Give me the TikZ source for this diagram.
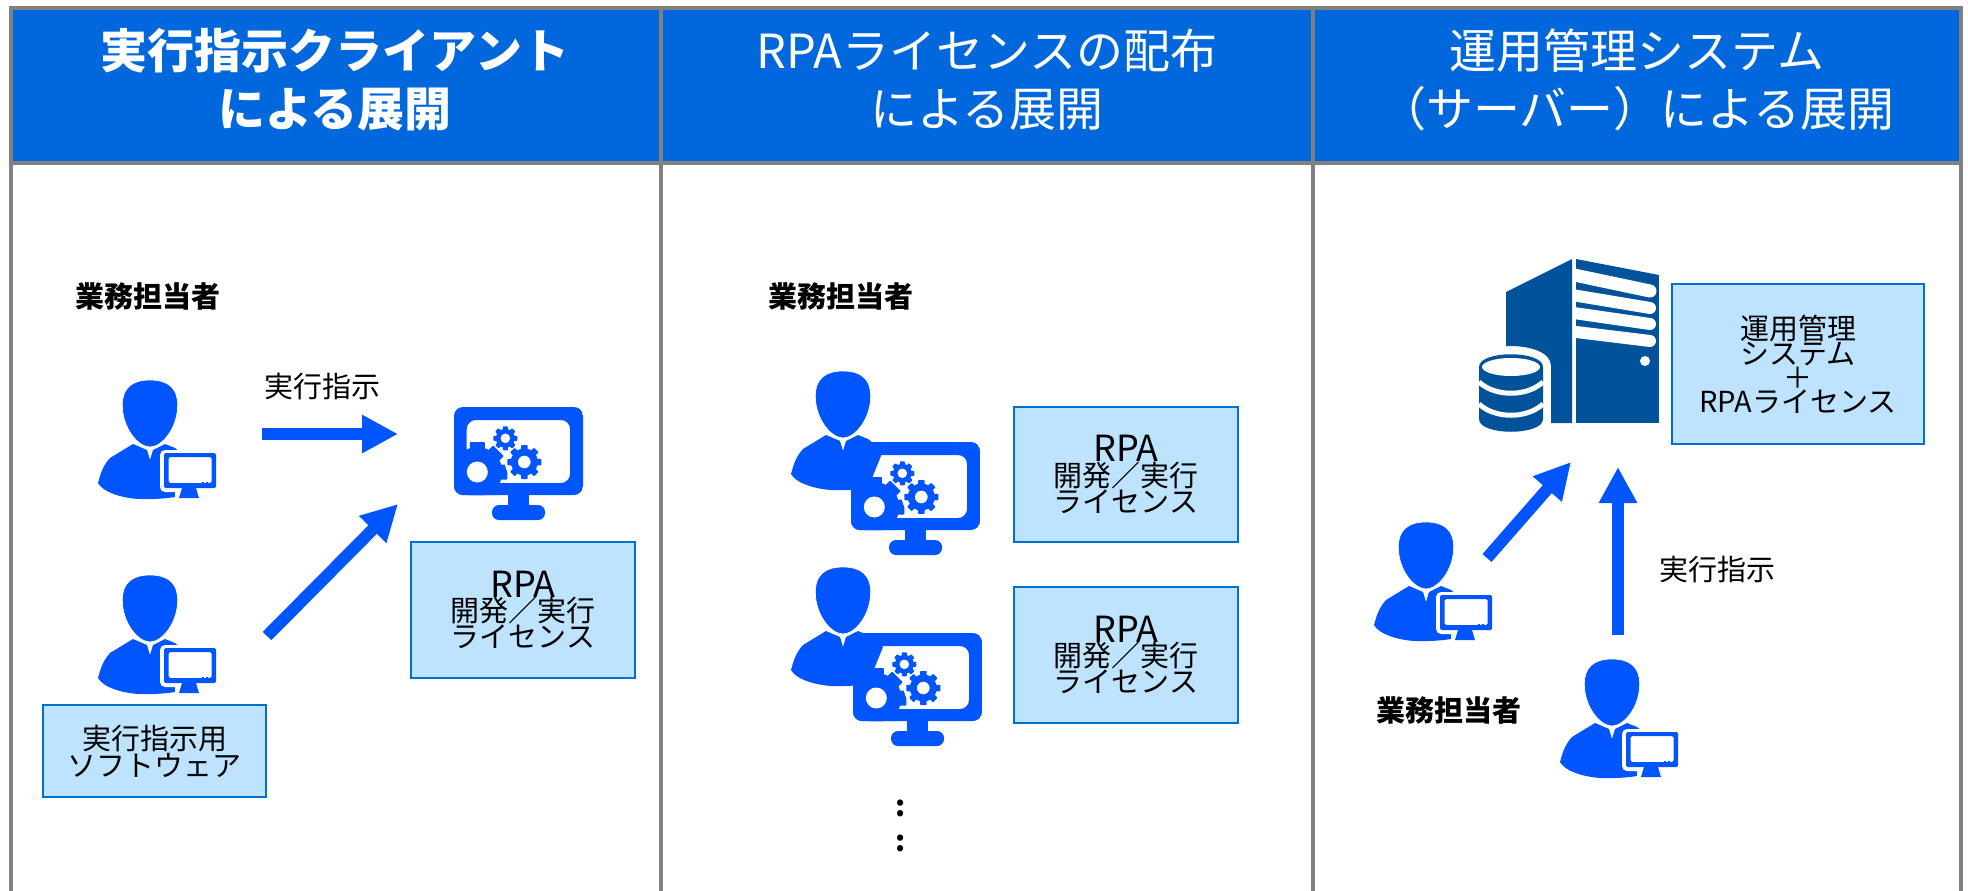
\documentclass[tikz,border=0pt]{standalone}
\usepackage{fontspec}
\setmainfont{Noto Sans CJK JP}
\usetikzlibrary{arrows.meta}
\definecolor{iconblue}{HTML}{0055FF}
\definecolor{headblue}{HTML}{0068DC}
\definecolor{rulegray}{HTML}{808080}
\definecolor{boxfill}{HTML}{BEE3FF}
\definecolor{boxline}{HTML}{0070D0}
\definecolor{servblue}{HTML}{00529B}
\newcommand{\fs}[2]{\fontsize{#1}{#2}\selectfont}
\newcommand{\gearat}[6]{% cx cy bodyr toothr toothw hole
  \fill[iconblue] (#1,#2) circle[radius=#3];
  \foreach \ang in {0,45,...,315}
    \fill[iconblue,shift={(#1,#2)},rotate=\ang,rounded corners=0.8pt] (-#5/2,-#4) rectangle (#5/2,0);
  \fill[white] (#1,#2) circle[radius=#6];
}
\tikzset{
  x=1pt,y=-1pt,
  grid/.style={draw=rulegray,line width=4pt},
  headcell/.style={fill=headblue,draw=none},
  headtext/.style={text=white,align=center,inner sep=0pt,font=\fs{47}{58}},
  info/.style={draw=boxline,line width=1.8pt,fill=boxfill,align=center,inner sep=0pt,text=black},
  who/.style={inner sep=0pt,font=\fs{29}{36}\bfseries,text=black},
  cmd/.style={inner sep=0pt,font=\fs{29}{36},text=black},
  bigarrow/.style={draw=iconblue,line width=12pt,-{Triangle[length=36pt,width=36pt]}},
  personbase/.pic={
    \fill[iconblue] (-17,64) -- (-3,70) -- (0,80) -- (3,70) -- (15,64) -- (25,68) -- (40,80) -- (25,117)
      .. controls (10,119.5) and (-10,119.5) .. (-17,118.5)
      .. controls (-30,117) and (-47,112) .. (-52,103)
      .. controls (-49,92) and (-47,86) .. (-40,78) -- cycle;
    \fill[iconblue,draw=white,line width=0.7pt] (0,0) .. controls (18,0) and (27.7,8) .. (27.7,25)
      .. controls (27.7,48) and (12,67) .. (0,67)
      .. controls (-12,67) and (-27.7,48) .. (-27.7,25)
      .. controls (-27.7,8) and (-18,0) .. (0,0) -- cycle;
  },
  personpc/.pic={
    \pic {personbase};
    \fill[white,rounded corners=5pt] (10,70) rectangle (70,112);
    \fill[white] (25,108) rectangle (30,122);
    \fill[iconblue,rounded corners=1.5pt,even odd rule] (14,73) rectangle (66,108) (18.7,77) rectangle (61.7,103);
    \fill[iconblue] (32,108) -- (46,108) -- (49,118) -- (29,118) -- cycle;
    \fill[iconblue] (52,102) rectangle (54,104) (56,102) rectangle (58,104);
  },
  gearmon/.pic={
    \begin{scope}
      \clip[rounded corners=9pt] (0,0) rectangle (129,88);
      \fill[iconblue,rounded corners=9pt,even odd rule] (0,0) rectangle (129,88) (12.7,13) rectangle (116,76);
      \gearat{23.3}{65}{25}{30}{15}{0}
      \fill[white] (70.3,55) circle[radius=19.5];
      \fill[white] (23.3,65) circle[radius=10.5];
    \end{scope}
    \gearat{70.3}{55}{13.5}{17}{6.5}{6.3}
    \gearat{51.3}{31.3}{9.5}{12}{5}{4.8}
    \fill[iconblue] (54,88) rectangle (75,100);
    \fill[iconblue,rounded corners=7pt] (38,98) rectangle (91,113);
  },
}
\begin{document}
\begin{tikzpicture}
\useasboundingbox (0,0) rectangle (1968,891);
\fill[white] (0,0) rectangle (1968,891);
% header band
\fill[headcell] (10.5,8) rectangle (1961,163);
% grid
\draw[grid] (10.5,891) -- (10.5,8) -- (1961,8) -- (1961,891);
\draw[grid] (661,8) -- (661,891);
\draw[grid] (1312.5,8) -- (1312.5,891);
\draw[grid] (10.5,163) -- (1961,163);
% header text
\node[headtext,font=\fs{47}{58}\bfseries] (h1) at (335,80) {実行指示クライアント\\による展開};
\node[headtext] (h2) at (987,80) {RPAライセンスの配布\\による展開};
\node[headtext] (h3) at (1637,80) {運用管理システム\\（サーバー）による展開};
% column 1
\node[who] (w1) at (148,296) {業務担当者};
\pic (p1) at (150,380) {personpc};
\pic (p2) at (150,575) {personpc};
\node[cmd] (c1) at (322,387) {実行指示};
\pic (m1) at (454,407) {gearmon};
\coordinate (a1s) at (262,434);
\coordinate (a1e) at (398,434);
\coordinate (a2s) at (267,636);
\coordinate (a2e) at (398,504);
\draw[bigarrow] (a1s) -- (a1e);
\draw[bigarrow] (a2s) -- (a2e);
\node[info,minimum width=224pt,minimum height=136pt] (b1) at (523,610) {{\fs{36}{40}RPA}\\[-1pt]{\fs{29}{38}開発／実行}\\{\fs{29}{38}ライセンス}};
\node[info,minimum width=223pt,minimum height=92pt] (b2) at (154.5,751) {{\fs{29}{38}実行指示用}\\{\fs{29}{38}ソフトウェア}};
% column 2
\node[who] (w2) at (841,296) {業務担当者};
\pic (p3) at (843,371) {personbase};
\pic (m2) at (851,442) {gearmon};
\pic (p4) at (843,567) {personbase};
\pic (m3) at (853,633) {gearmon};
\node[info,minimum width=224pt,minimum height=135pt] (b3) at (1126,474.5) {{\fs{36}{40}RPA}\\[-1pt]{\fs{29}{38}開発／実行}\\{\fs{29}{38}ライセンス}};
\node[info,minimum width=224pt,minimum height=136pt] (b4) at (1126,655) {{\fs{36}{40}RPA}\\[-1pt]{\fs{29}{38}開発／実行}\\{\fs{29}{38}ライセンス}};
\node[inner sep=0pt,font=\fs{29}{36}\bfseries] (d1) at (901,808) {:};
\node[inner sep=0pt,font=\fs{29}{36}\bfseries] (d2) at (901,843) {:};
% column 3: server
\fill[servblue] (1506,292) -- (1572,259) -- (1572,423) -- (1551,423) -- (1551,366)
  .. controls (1551,352) and (1530,346) .. (1510,346) -- (1506,346) -- cycle;
\begin{scope}
  \clip (1576,259) -- (1659,275) -- (1659,423) -- (1576,423) -- cycle;
  \fill[servblue] (1576,259) rectangle (1659,423);
  \draw[white,line width=13pt,line cap=round] (1560,272) -- (1650,291);
  \draw[white,line width=12pt,line cap=round] (1560,293) -- (1650,308);
  \draw[white,line width=12pt,line cap=round] (1560,311) -- (1650,324);
  \draw[white,line width=12pt,line cap=round] (1560,330) -- (1650,341);
  \fill[white] (1645,361) circle[radius=5];
\end{scope}
\fill[servblue] (1479,367) .. controls (1479,350) and (1543,350) .. (1543,367) -- (1543,419)
  .. controls (1543,436) and (1479,436) .. (1479,419) -- cycle;
\fill[white] (1511,367) ellipse[x radius=29,y radius=9];
\draw[white,line width=5pt] (1479,382) .. controls (1495,397) and (1527,397) .. (1543,382);
\draw[white,line width=5pt] (1479,404) .. controls (1495,419) and (1527,419) .. (1543,404);
\node[info,minimum width=252pt,minimum height=160pt] (b5) at (1798,364) {{\fs{29}{38}運用管理}\\{\fs{29}{38}システム}\\{\fs{29}{38}＋}\\{\fs{29}{38}RPAライセンス}};
\pic (p5) at (1426,522) {personpc};
\pic (p6) at (1612,659) {personpc};
\node[who] (w3) at (1449,710) {業務担当者};
\node[cmd] (c2) at (1717,570) {実行指示};
\coordinate (a3s) at (1487,558);
\coordinate (a3e) at (1571,462);
\coordinate (a4s) at (1618,635);
\coordinate (a4e) at (1618,467);
\draw[bigarrow] (a3s) -- (a3e);
\draw[bigarrow] (a4s) -- (a4e);
\end{tikzpicture}
\end{document}
